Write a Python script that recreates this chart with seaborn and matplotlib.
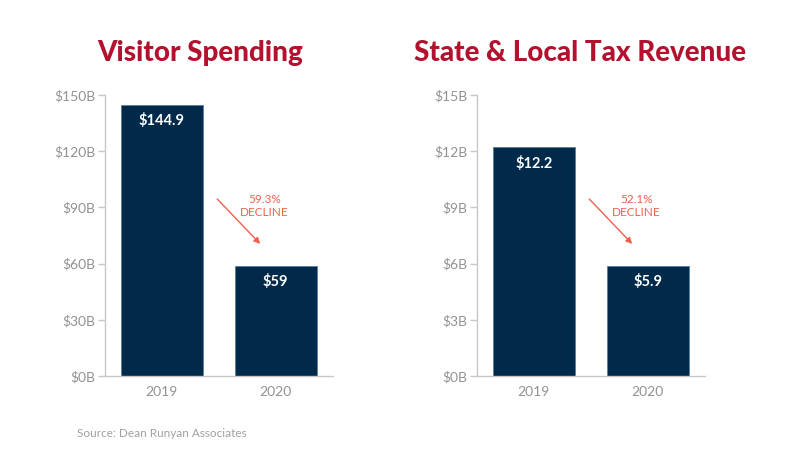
import matplotlib
matplotlib.use("Agg")
import matplotlib.pyplot as plt
import seaborn as sns
import pandas as pd

years = ["2019", "2020"]
visitor_spending = [144.9, 59.0]
tax_revenue = [12.2, 5.9]
visitor_labels = ["$144.9", "$59"]
tax_labels = ["$12.2", "$5.9"]
visitor_ticks = [0, 30, 60, 90, 120, 150]
tax_ticks = [0, 3, 6, 9, 12, 15]
declines = ["59.3%\nDECLINE", "52.1%\nDECLINE"]
titles = ["Visitor Spending", "State & Local Tax Revenue"]

sns.set_style("white")
plt.rcParams['font.family'] = ['Lato', 'DejaVu Sans']

NAVY = "#00294a"
RED = "#b3122e"
SALMON = "#f0604d"
GRAY = "#929292"
SPINE = "#c8c8c8"

fig = plt.figure(figsize=(8, 4.5), dpi=100)
ax_pos = [[0.131, 0.1644, 0.285, 0.6244], [0.596, 0.1644, 0.285, 0.6244]]
title_x = [0.25, 0.725]

panels = [
    (visitor_spending, visitor_labels, visitor_ticks, 150),
    (tax_revenue, tax_labels, tax_ticks, 15),
]

for i, (vals, labs, ticks, top) in enumerate(panels):
    ax = fig.add_axes(ax_pos[i])
    df = pd.DataFrame({"year": years, "value": vals})
    sns.barplot(data=df, x="year", y="value", color=NAVY, width=0.72,
                saturation=1, edgecolor="#5a7da0", linewidth=0.6, ax=ax)
    ax.set_ylim(0, top)
    ax.set_xlim(-0.5, 1.5)
    ax.set_yticks(ticks)
    ax.set_yticklabels([f"${t}B" for t in ticks])
    ax.set_xlabel("")
    ax.set_ylabel("")
    for s in ["top", "right"]:
        ax.spines[s].set_visible(False)
    for s in ["left", "bottom"]:
        ax.spines[s].set_color(SPINE)
        ax.spines[s].set_linewidth(1.0)
    ax.tick_params(axis="y", colors=GRAY, labelcolor=GRAY, labelsize=10,
                   left=True, length=5, width=1, color=SPINE, pad=2)
    ax.tick_params(axis="x", labelcolor=GRAY, labelsize=10, bottom=False, pad=4)
    for j, (v, l) in enumerate(zip(vals, labs)):
        ax.text(j, v - top * 0.03, l, ha="center", va="top", color="white",
                fontsize=10.5, fontweight="bold")
    # decline arrow
    ax.annotate("", xy=(0.88, top * 0.463), xytext=(0.47, top * 0.637),
                arrowprops=dict(arrowstyle="-|>", color=SALMON, lw=1.0,
                                mutation_scale=9))
    ax.text(0.9, top * 0.605, declines[i], ha="center", va="center",
            color=SALMON, fontsize=8.5, linespacing=1.2)
    fig.text(title_x[i], 0.882, titles[i], ha="center", va="center", color=RED,
             fontsize=20, fontweight="black")

fig.text(0.096, 0.037, "Source: Dean Runyan Associates", ha="left",
         va="center", color="#a0a0a0", fontsize=8.5)

fig.savefig("out.png", dpi=100, facecolor="white")
